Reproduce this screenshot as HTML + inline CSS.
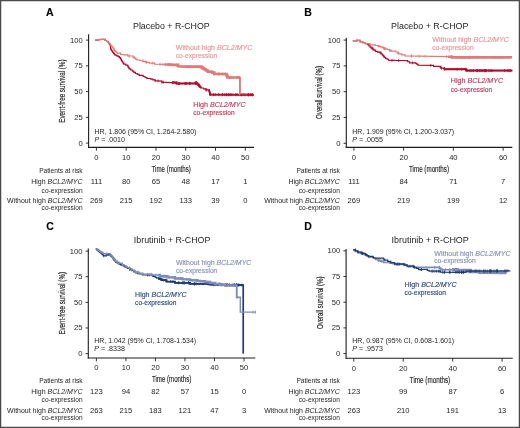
<!DOCTYPE html>
<html><head><meta charset="utf-8"><style>
html,body{margin:0;padding:0;background:#fff;overflow:hidden;}
svg{display:block;font-family:"Liberation Sans", sans-serif;will-change:transform;}
</style></head><body>
<svg width="520" height="428" viewBox="0 0 520 428">
<rect x="0" y="0" width="520" height="428" fill="#fff"/>
<text x="46.00" y="15.50" font-size="10.5" text-anchor="start" fill="#000" font-weight="bold" stroke="#000" stroke-width="0.1">A</text>
<text x="133.00" y="28.80" font-size="8.6" text-anchor="start" fill="#1e1e1e" font-weight="normal" textLength="76.69999999999999" lengthAdjust="spacingAndGlyphs">Placebo + R-CHOP</text>
<line x1="88.60" y1="34.20" x2="88.60" y2="147.95" stroke="#1e1e1e" stroke-width="1.1"/>
<line x1="88.05" y1="147.40" x2="254.00" y2="147.40" stroke="#1e1e1e" stroke-width="1.1"/>
<line x1="85.90" y1="40.10" x2="88.60" y2="40.10" stroke="#1e1e1e" stroke-width="0.9"/>
<text x="82.70" y="42.50" font-size="7.6" text-anchor="end" fill="#1e1e1e" font-weight="normal">100</text>
<line x1="85.90" y1="65.85" x2="88.60" y2="65.85" stroke="#1e1e1e" stroke-width="0.9"/>
<text x="82.70" y="68.25" font-size="7.6" text-anchor="end" fill="#1e1e1e" font-weight="normal">75</text>
<line x1="85.90" y1="91.60" x2="88.60" y2="91.60" stroke="#1e1e1e" stroke-width="0.9"/>
<text x="82.70" y="94.00" font-size="7.6" text-anchor="end" fill="#1e1e1e" font-weight="normal">50</text>
<line x1="85.90" y1="117.35" x2="88.60" y2="117.35" stroke="#1e1e1e" stroke-width="0.9"/>
<text x="82.70" y="119.75" font-size="7.6" text-anchor="end" fill="#1e1e1e" font-weight="normal">25</text>
<line x1="85.90" y1="143.10" x2="88.60" y2="143.10" stroke="#1e1e1e" stroke-width="0.9"/>
<text x="82.70" y="145.50" font-size="7.6" text-anchor="end" fill="#1e1e1e" font-weight="normal">0</text>
<text transform="translate(65.2,91.1) rotate(-90)" x="0" y="0" font-size="9" text-anchor="middle" fill="#1e1e1e" stroke="#1e1e1e" stroke-width="0.15" textLength="63.2" lengthAdjust="spacingAndGlyphs">Event-free survival (%)</text>
<line x1="96.40" y1="147.40" x2="96.40" y2="150.70" stroke="#1e1e1e" stroke-width="0.9"/>
<text x="96.40" y="159.60" font-size="7.6" text-anchor="middle" fill="#1e1e1e" font-weight="normal">0</text>
<line x1="126.18" y1="147.40" x2="126.18" y2="150.70" stroke="#1e1e1e" stroke-width="0.9"/>
<text x="126.18" y="159.60" font-size="7.6" text-anchor="middle" fill="#1e1e1e" font-weight="normal">10</text>
<line x1="155.96" y1="147.40" x2="155.96" y2="150.70" stroke="#1e1e1e" stroke-width="0.9"/>
<text x="155.96" y="159.60" font-size="7.6" text-anchor="middle" fill="#1e1e1e" font-weight="normal">20</text>
<line x1="185.74" y1="147.40" x2="185.74" y2="150.70" stroke="#1e1e1e" stroke-width="0.9"/>
<text x="185.74" y="159.60" font-size="7.6" text-anchor="middle" fill="#1e1e1e" font-weight="normal">30</text>
<line x1="215.52" y1="147.40" x2="215.52" y2="150.70" stroke="#1e1e1e" stroke-width="0.9"/>
<text x="215.52" y="159.60" font-size="7.6" text-anchor="middle" fill="#1e1e1e" font-weight="normal">40</text>
<line x1="245.30" y1="147.40" x2="245.30" y2="150.70" stroke="#1e1e1e" stroke-width="0.9"/>
<text x="245.30" y="159.60" font-size="7.6" text-anchor="middle" fill="#1e1e1e" font-weight="normal">50</text>
<text x="171.20" y="171.90" font-size="8.5" text-anchor="middle" fill="#1e1e1e" font-weight="normal" stroke="#1e1e1e" stroke-width="0.15" textLength="39.3" lengthAdjust="spacingAndGlyphs">Time (months)</text>
<text x="94.50" y="133.70" font-size="7" text-anchor="start" fill="#1e1e1e" font-weight="normal" textLength="101.9" lengthAdjust="spacingAndGlyphs">HR, 1.806 (95% CI, 1.264-2.580)</text>
<text x="94.50" y="142.00" font-size="7" text-anchor="start" fill="#1e1e1e" font-weight="normal" textLength="30.5" lengthAdjust="spacingAndGlyphs"><tspan font-style="italic">P</tspan> = .0010</text>
<text x="82.60" y="173.00" font-size="7" text-anchor="end" fill="#1e1e1e" font-weight="normal" textLength="43.4" lengthAdjust="spacingAndGlyphs">Patients at risk</text>
<text x="82.60" y="183.80" font-size="7" text-anchor="end" fill="#1e1e1e" font-weight="normal" textLength="51.4" lengthAdjust="spacingAndGlyphs">High <tspan font-style="italic">BCL2/MYC</tspan></text>
<text x="82.60" y="192.50" font-size="7" text-anchor="end" fill="#1e1e1e" font-weight="normal" textLength="41.0" lengthAdjust="spacingAndGlyphs">co-expression</text>
<text x="82.60" y="203.10" font-size="7" text-anchor="end" fill="#1e1e1e" font-weight="normal" textLength="75.6" lengthAdjust="spacingAndGlyphs">Without high <tspan font-style="italic">BCL2/MYC</tspan></text>
<text x="82.60" y="210.00" font-size="7" text-anchor="end" fill="#1e1e1e" font-weight="normal" textLength="41.0" lengthAdjust="spacingAndGlyphs">co-expression</text>
<text x="96.40" y="183.80" font-size="7.6" text-anchor="middle" fill="#1e1e1e" font-weight="normal">111</text>
<text x="96.40" y="203.10" font-size="7.6" text-anchor="middle" fill="#1e1e1e" font-weight="normal">269</text>
<text x="126.18" y="183.80" font-size="7.6" text-anchor="middle" fill="#1e1e1e" font-weight="normal">80</text>
<text x="126.18" y="203.10" font-size="7.6" text-anchor="middle" fill="#1e1e1e" font-weight="normal">215</text>
<text x="155.96" y="183.80" font-size="7.6" text-anchor="middle" fill="#1e1e1e" font-weight="normal">65</text>
<text x="155.96" y="203.10" font-size="7.6" text-anchor="middle" fill="#1e1e1e" font-weight="normal">192</text>
<text x="185.74" y="183.80" font-size="7.6" text-anchor="middle" fill="#1e1e1e" font-weight="normal">48</text>
<text x="185.74" y="203.10" font-size="7.6" text-anchor="middle" fill="#1e1e1e" font-weight="normal">133</text>
<text x="215.52" y="183.80" font-size="7.6" text-anchor="middle" fill="#1e1e1e" font-weight="normal">17</text>
<text x="215.52" y="203.10" font-size="7.6" text-anchor="middle" fill="#1e1e1e" font-weight="normal">39</text>
<text x="245.30" y="183.80" font-size="7.6" text-anchor="middle" fill="#1e1e1e" font-weight="normal">1</text>
<text x="245.30" y="203.10" font-size="7.6" text-anchor="middle" fill="#1e1e1e" font-weight="normal">0</text>
<text x="175.80" y="50.00" font-size="7" text-anchor="start" fill="#e4969a" font-weight="normal" stroke="#e4969a" stroke-width="0.15" textLength="76.5" lengthAdjust="spacingAndGlyphs">Without high <tspan font-style="italic">BCL2/MYC</tspan></text>
<text x="175.80" y="58.00" font-size="7" text-anchor="start" fill="#e4969a" font-weight="normal" stroke="#e4969a" stroke-width="0.15" textLength="41.3" lengthAdjust="spacingAndGlyphs">co-expression</text>
<text x="193.30" y="106.70" font-size="7" text-anchor="start" fill="#c03a58" font-weight="normal" stroke="#c03a58" stroke-width="0.15" textLength="52.4" lengthAdjust="spacingAndGlyphs">High <tspan font-style="italic">BCL2/MYC</tspan></text>
<text x="193.30" y="114.70" font-size="7" text-anchor="start" fill="#c03a58" font-weight="normal" stroke="#c03a58" stroke-width="0.15" textLength="41.3" lengthAdjust="spacingAndGlyphs">co-expression</text>
<text x="304.20" y="15.60" font-size="10.5" text-anchor="start" fill="#000" font-weight="bold" stroke="#000" stroke-width="0.1">B</text>
<text x="391.00" y="29.00" font-size="8.6" text-anchor="start" fill="#1e1e1e" font-weight="normal" textLength="77.5" lengthAdjust="spacingAndGlyphs">Placebo + R-CHOP</text>
<line x1="346.30" y1="37.70" x2="346.30" y2="147.95" stroke="#1e1e1e" stroke-width="1.1"/>
<line x1="345.75" y1="147.40" x2="512.30" y2="147.40" stroke="#1e1e1e" stroke-width="1.1"/>
<line x1="343.60" y1="40.10" x2="346.30" y2="40.10" stroke="#1e1e1e" stroke-width="0.9"/>
<text x="340.40" y="42.50" font-size="7.6" text-anchor="end" fill="#1e1e1e" font-weight="normal">100</text>
<line x1="343.60" y1="65.90" x2="346.30" y2="65.90" stroke="#1e1e1e" stroke-width="0.9"/>
<text x="340.40" y="68.30" font-size="7.6" text-anchor="end" fill="#1e1e1e" font-weight="normal">75</text>
<line x1="343.60" y1="91.70" x2="346.30" y2="91.70" stroke="#1e1e1e" stroke-width="0.9"/>
<text x="340.40" y="94.10" font-size="7.6" text-anchor="end" fill="#1e1e1e" font-weight="normal">50</text>
<line x1="343.60" y1="117.50" x2="346.30" y2="117.50" stroke="#1e1e1e" stroke-width="0.9"/>
<text x="340.40" y="119.90" font-size="7.6" text-anchor="end" fill="#1e1e1e" font-weight="normal">25</text>
<line x1="343.60" y1="143.30" x2="346.30" y2="143.30" stroke="#1e1e1e" stroke-width="0.9"/>
<text x="340.40" y="145.70" font-size="7.6" text-anchor="end" fill="#1e1e1e" font-weight="normal">0</text>
<text transform="translate(322.4,92.4) rotate(-90)" x="0" y="0" font-size="9" text-anchor="middle" fill="#1e1e1e" stroke="#1e1e1e" stroke-width="0.15" textLength="53.0" lengthAdjust="spacingAndGlyphs">Overall survival (%)</text>
<line x1="353.90" y1="147.40" x2="353.90" y2="150.70" stroke="#1e1e1e" stroke-width="0.9"/>
<text x="353.90" y="159.60" font-size="7.6" text-anchor="middle" fill="#1e1e1e" font-weight="normal">0</text>
<line x1="403.64" y1="147.40" x2="403.64" y2="150.70" stroke="#1e1e1e" stroke-width="0.9"/>
<text x="403.64" y="159.60" font-size="7.6" text-anchor="middle" fill="#1e1e1e" font-weight="normal">20</text>
<line x1="453.38" y1="147.40" x2="453.38" y2="150.70" stroke="#1e1e1e" stroke-width="0.9"/>
<text x="453.38" y="159.60" font-size="7.6" text-anchor="middle" fill="#1e1e1e" font-weight="normal">40</text>
<line x1="503.12" y1="147.40" x2="503.12" y2="150.70" stroke="#1e1e1e" stroke-width="0.9"/>
<text x="503.12" y="159.60" font-size="7.6" text-anchor="middle" fill="#1e1e1e" font-weight="normal">60</text>
<text x="429.00" y="172.10" font-size="8.5" text-anchor="middle" fill="#1e1e1e" font-weight="normal" stroke="#1e1e1e" stroke-width="0.15" textLength="40.0" lengthAdjust="spacingAndGlyphs">Time (months)</text>
<text x="352.20" y="133.70" font-size="7" text-anchor="start" fill="#1e1e1e" font-weight="normal" textLength="101.90000000000003" lengthAdjust="spacingAndGlyphs">HR, 1.909 (95% CI, 1.200-3.037)</text>
<text x="352.20" y="142.00" font-size="7" text-anchor="start" fill="#1e1e1e" font-weight="normal" textLength="30.80000000000001" lengthAdjust="spacingAndGlyphs"><tspan font-style="italic">P</tspan> = .0055</text>
<text x="339.80" y="173.00" font-size="7" text-anchor="end" fill="#1e1e1e" font-weight="normal" textLength="43.4" lengthAdjust="spacingAndGlyphs">Patients at risk</text>
<text x="339.80" y="183.80" font-size="7" text-anchor="end" fill="#1e1e1e" font-weight="normal" textLength="51.4" lengthAdjust="spacingAndGlyphs">High <tspan font-style="italic">BCL2/MYC</tspan></text>
<text x="339.80" y="192.50" font-size="7" text-anchor="end" fill="#1e1e1e" font-weight="normal" textLength="41.0" lengthAdjust="spacingAndGlyphs">co-expression</text>
<text x="339.80" y="203.10" font-size="7" text-anchor="end" fill="#1e1e1e" font-weight="normal" textLength="75.6" lengthAdjust="spacingAndGlyphs">Without high <tspan font-style="italic">BCL2/MYC</tspan></text>
<text x="339.80" y="210.00" font-size="7" text-anchor="end" fill="#1e1e1e" font-weight="normal" textLength="41.0" lengthAdjust="spacingAndGlyphs">co-expression</text>
<text x="353.90" y="183.80" font-size="7.6" text-anchor="middle" fill="#1e1e1e" font-weight="normal">111</text>
<text x="353.90" y="203.10" font-size="7.6" text-anchor="middle" fill="#1e1e1e" font-weight="normal">269</text>
<text x="403.64" y="183.80" font-size="7.6" text-anchor="middle" fill="#1e1e1e" font-weight="normal">84</text>
<text x="403.64" y="203.10" font-size="7.6" text-anchor="middle" fill="#1e1e1e" font-weight="normal">219</text>
<text x="453.38" y="183.80" font-size="7.6" text-anchor="middle" fill="#1e1e1e" font-weight="normal">71</text>
<text x="453.38" y="203.10" font-size="7.6" text-anchor="middle" fill="#1e1e1e" font-weight="normal">199</text>
<text x="503.12" y="183.80" font-size="7.6" text-anchor="middle" fill="#1e1e1e" font-weight="normal">7</text>
<text x="503.12" y="203.10" font-size="7.6" text-anchor="middle" fill="#1e1e1e" font-weight="normal">12</text>
<text x="432.30" y="42.00" font-size="7" text-anchor="start" fill="#e4969a" font-weight="normal" stroke="#e4969a" stroke-width="0.15" textLength="76.5" lengthAdjust="spacingAndGlyphs">Without high <tspan font-style="italic">BCL2/MYC</tspan></text>
<text x="432.30" y="49.90" font-size="7" text-anchor="start" fill="#e4969a" font-weight="normal" stroke="#e4969a" stroke-width="0.15" textLength="41.3" lengthAdjust="spacingAndGlyphs">co-expression</text>
<text x="450.80" y="83.30" font-size="7" text-anchor="start" fill="#c03a58" font-weight="normal" stroke="#c03a58" stroke-width="0.15" textLength="52.4" lengthAdjust="spacingAndGlyphs">High <tspan font-style="italic">BCL2/MYC</tspan></text>
<text x="450.80" y="91.50" font-size="7" text-anchor="start" fill="#c03a58" font-weight="normal" stroke="#c03a58" stroke-width="0.15" textLength="41.3" lengthAdjust="spacingAndGlyphs">co-expression</text>
<text x="46.20" y="229.50" font-size="10.5" text-anchor="start" fill="#000" font-weight="bold" stroke="#000" stroke-width="0.1">C</text>
<text x="133.80" y="242.80" font-size="8.6" text-anchor="start" fill="#1e1e1e" font-weight="normal" textLength="76.6" lengthAdjust="spacingAndGlyphs">Ibrutinib + R-CHOP</text>
<line x1="88.30" y1="248.60" x2="88.30" y2="358.55" stroke="#1e1e1e" stroke-width="1.1"/>
<line x1="87.75" y1="358.00" x2="255.30" y2="358.00" stroke="#1e1e1e" stroke-width="1.1"/>
<line x1="85.60" y1="251.10" x2="88.30" y2="251.10" stroke="#1e1e1e" stroke-width="0.9"/>
<text x="82.40" y="253.50" font-size="7.6" text-anchor="end" fill="#1e1e1e" font-weight="normal">100</text>
<line x1="85.60" y1="276.73" x2="88.30" y2="276.73" stroke="#1e1e1e" stroke-width="0.9"/>
<text x="82.40" y="279.12" font-size="7.6" text-anchor="end" fill="#1e1e1e" font-weight="normal">75</text>
<line x1="85.60" y1="302.35" x2="88.30" y2="302.35" stroke="#1e1e1e" stroke-width="0.9"/>
<text x="82.40" y="304.75" font-size="7.6" text-anchor="end" fill="#1e1e1e" font-weight="normal">50</text>
<line x1="85.60" y1="327.98" x2="88.30" y2="327.98" stroke="#1e1e1e" stroke-width="0.9"/>
<text x="82.40" y="330.38" font-size="7.6" text-anchor="end" fill="#1e1e1e" font-weight="normal">25</text>
<line x1="85.60" y1="353.60" x2="88.30" y2="353.60" stroke="#1e1e1e" stroke-width="0.9"/>
<text x="82.40" y="356.00" font-size="7.6" text-anchor="end" fill="#1e1e1e" font-weight="normal">0</text>
<text transform="translate(65.2,303.3) rotate(-90)" x="0" y="0" font-size="9" text-anchor="middle" fill="#1e1e1e" stroke="#1e1e1e" stroke-width="0.15" textLength="62.60000000000002" lengthAdjust="spacingAndGlyphs">Event-free survival (%)</text>
<line x1="96.40" y1="358.00" x2="96.40" y2="361.30" stroke="#1e1e1e" stroke-width="0.9"/>
<text x="96.40" y="370.20" font-size="7.6" text-anchor="middle" fill="#1e1e1e" font-weight="normal">0</text>
<line x1="125.92" y1="358.00" x2="125.92" y2="361.30" stroke="#1e1e1e" stroke-width="0.9"/>
<text x="125.92" y="370.20" font-size="7.6" text-anchor="middle" fill="#1e1e1e" font-weight="normal">10</text>
<line x1="155.44" y1="358.00" x2="155.44" y2="361.30" stroke="#1e1e1e" stroke-width="0.9"/>
<text x="155.44" y="370.20" font-size="7.6" text-anchor="middle" fill="#1e1e1e" font-weight="normal">20</text>
<line x1="184.96" y1="358.00" x2="184.96" y2="361.30" stroke="#1e1e1e" stroke-width="0.9"/>
<text x="184.96" y="370.20" font-size="7.6" text-anchor="middle" fill="#1e1e1e" font-weight="normal">30</text>
<line x1="214.48" y1="358.00" x2="214.48" y2="361.30" stroke="#1e1e1e" stroke-width="0.9"/>
<text x="214.48" y="370.20" font-size="7.6" text-anchor="middle" fill="#1e1e1e" font-weight="normal">40</text>
<line x1="244.00" y1="358.00" x2="244.00" y2="361.30" stroke="#1e1e1e" stroke-width="0.9"/>
<text x="244.00" y="370.20" font-size="7.6" text-anchor="middle" fill="#1e1e1e" font-weight="normal">50</text>
<text x="171.60" y="382.10" font-size="8.5" text-anchor="middle" fill="#1e1e1e" font-weight="normal" stroke="#1e1e1e" stroke-width="0.15" textLength="39.4" lengthAdjust="spacingAndGlyphs">Time (months)</text>
<text x="94.20" y="342.90" font-size="7" text-anchor="start" fill="#1e1e1e" font-weight="normal" textLength="101.89999999999999" lengthAdjust="spacingAndGlyphs">HR, 1.042 (95% CI, 1.708-1.534)</text>
<text x="94.20" y="351.30" font-size="7" text-anchor="start" fill="#1e1e1e" font-weight="normal" textLength="30.700000000000003" lengthAdjust="spacingAndGlyphs"><tspan font-style="italic">P</tspan> = .8338</text>
<text x="82.60" y="382.80" font-size="7" text-anchor="end" fill="#1e1e1e" font-weight="normal" textLength="43.4" lengthAdjust="spacingAndGlyphs">Patients at risk</text>
<text x="82.60" y="393.60" font-size="7" text-anchor="end" fill="#1e1e1e" font-weight="normal" textLength="51.4" lengthAdjust="spacingAndGlyphs">High <tspan font-style="italic">BCL2/MYC</tspan></text>
<text x="82.60" y="402.30" font-size="7" text-anchor="end" fill="#1e1e1e" font-weight="normal" textLength="41.0" lengthAdjust="spacingAndGlyphs">co-expression</text>
<text x="82.60" y="412.90" font-size="7" text-anchor="end" fill="#1e1e1e" font-weight="normal" textLength="75.6" lengthAdjust="spacingAndGlyphs">Without high <tspan font-style="italic">BCL2/MYC</tspan></text>
<text x="82.60" y="419.80" font-size="7" text-anchor="end" fill="#1e1e1e" font-weight="normal" textLength="41.0" lengthAdjust="spacingAndGlyphs">co-expression</text>
<text x="96.40" y="393.60" font-size="7.6" text-anchor="middle" fill="#1e1e1e" font-weight="normal">123</text>
<text x="96.40" y="412.90" font-size="7.6" text-anchor="middle" fill="#1e1e1e" font-weight="normal">263</text>
<text x="125.92" y="393.60" font-size="7.6" text-anchor="middle" fill="#1e1e1e" font-weight="normal">94</text>
<text x="125.92" y="412.90" font-size="7.6" text-anchor="middle" fill="#1e1e1e" font-weight="normal">215</text>
<text x="155.44" y="393.60" font-size="7.6" text-anchor="middle" fill="#1e1e1e" font-weight="normal">82</text>
<text x="155.44" y="412.90" font-size="7.6" text-anchor="middle" fill="#1e1e1e" font-weight="normal">183</text>
<text x="184.96" y="393.60" font-size="7.6" text-anchor="middle" fill="#1e1e1e" font-weight="normal">57</text>
<text x="184.96" y="412.90" font-size="7.6" text-anchor="middle" fill="#1e1e1e" font-weight="normal">121</text>
<text x="214.48" y="393.60" font-size="7.6" text-anchor="middle" fill="#1e1e1e" font-weight="normal">15</text>
<text x="214.48" y="412.90" font-size="7.6" text-anchor="middle" fill="#1e1e1e" font-weight="normal">47</text>
<text x="244.00" y="393.60" font-size="7.6" text-anchor="middle" fill="#1e1e1e" font-weight="normal">0</text>
<text x="244.00" y="412.90" font-size="7.6" text-anchor="middle" fill="#1e1e1e" font-weight="normal">3</text>
<text x="176.00" y="264.60" font-size="7" text-anchor="start" fill="#8a90b4" font-weight="normal" stroke="#8a90b4" stroke-width="0.15" textLength="75.3" lengthAdjust="spacingAndGlyphs">Without high <tspan font-style="italic">BCL2/MYC</tspan></text>
<text x="176.00" y="272.80" font-size="7" text-anchor="start" fill="#8a90b4" font-weight="normal" stroke="#8a90b4" stroke-width="0.15" textLength="41.3" lengthAdjust="spacingAndGlyphs">co-expression</text>
<text x="135.10" y="296.80" font-size="7" text-anchor="start" fill="#2e4a7e" font-weight="normal" stroke="#2e4a7e" stroke-width="0.15" textLength="51.4" lengthAdjust="spacingAndGlyphs">High <tspan font-style="italic">BCL2/MYC</tspan></text>
<text x="135.10" y="305.40" font-size="7" text-anchor="start" fill="#2e4a7e" font-weight="normal" stroke="#2e4a7e" stroke-width="0.15" textLength="41.3" lengthAdjust="spacingAndGlyphs">co-expression</text>
<text x="304.20" y="229.50" font-size="10.5" text-anchor="start" fill="#000" font-weight="bold" stroke="#000" stroke-width="0.1">D</text>
<text x="391.50" y="243.10" font-size="8.6" text-anchor="start" fill="#1e1e1e" font-weight="normal" textLength="77.30000000000001" lengthAdjust="spacingAndGlyphs">Ibrutinib + R-CHOP</text>
<line x1="346.10" y1="248.90" x2="346.10" y2="358.85" stroke="#1e1e1e" stroke-width="1.1"/>
<line x1="345.55" y1="358.30" x2="512.70" y2="358.30" stroke="#1e1e1e" stroke-width="1.1"/>
<line x1="343.40" y1="250.80" x2="346.10" y2="250.80" stroke="#1e1e1e" stroke-width="0.9"/>
<text x="340.20" y="253.20" font-size="7.6" text-anchor="end" fill="#1e1e1e" font-weight="normal">100</text>
<line x1="343.40" y1="276.50" x2="346.10" y2="276.50" stroke="#1e1e1e" stroke-width="0.9"/>
<text x="340.20" y="278.90" font-size="7.6" text-anchor="end" fill="#1e1e1e" font-weight="normal">75</text>
<line x1="343.40" y1="302.20" x2="346.10" y2="302.20" stroke="#1e1e1e" stroke-width="0.9"/>
<text x="340.20" y="304.60" font-size="7.6" text-anchor="end" fill="#1e1e1e" font-weight="normal">50</text>
<line x1="343.40" y1="327.90" x2="346.10" y2="327.90" stroke="#1e1e1e" stroke-width="0.9"/>
<text x="340.20" y="330.30" font-size="7.6" text-anchor="end" fill="#1e1e1e" font-weight="normal">25</text>
<line x1="343.40" y1="353.60" x2="346.10" y2="353.60" stroke="#1e1e1e" stroke-width="0.9"/>
<text x="340.20" y="356.00" font-size="7.6" text-anchor="end" fill="#1e1e1e" font-weight="normal">0</text>
<text transform="translate(322.5,302.75) rotate(-90)" x="0" y="0" font-size="9" text-anchor="middle" fill="#1e1e1e" stroke="#1e1e1e" stroke-width="0.15" textLength="52.5" lengthAdjust="spacingAndGlyphs">Overall survival (%)</text>
<line x1="353.80" y1="358.30" x2="353.80" y2="361.60" stroke="#1e1e1e" stroke-width="0.9"/>
<text x="353.80" y="370.50" font-size="7.6" text-anchor="middle" fill="#1e1e1e" font-weight="normal">0</text>
<line x1="403.24" y1="358.30" x2="403.24" y2="361.60" stroke="#1e1e1e" stroke-width="0.9"/>
<text x="403.24" y="370.50" font-size="7.6" text-anchor="middle" fill="#1e1e1e" font-weight="normal">20</text>
<line x1="452.68" y1="358.30" x2="452.68" y2="361.60" stroke="#1e1e1e" stroke-width="0.9"/>
<text x="452.68" y="370.50" font-size="7.6" text-anchor="middle" fill="#1e1e1e" font-weight="normal">40</text>
<line x1="502.12" y1="358.30" x2="502.12" y2="361.60" stroke="#1e1e1e" stroke-width="0.9"/>
<text x="502.12" y="370.50" font-size="7.6" text-anchor="middle" fill="#1e1e1e" font-weight="normal">60</text>
<text x="430.00" y="382.50" font-size="8.5" text-anchor="middle" fill="#1e1e1e" font-weight="normal" stroke="#1e1e1e" stroke-width="0.15" textLength="40.4" lengthAdjust="spacingAndGlyphs">Time (months)</text>
<text x="352.20" y="342.90" font-size="7" text-anchor="start" fill="#1e1e1e" font-weight="normal" textLength="101.90000000000003" lengthAdjust="spacingAndGlyphs">HR, 0.987 (95% CI, 0.608-1.601)</text>
<text x="352.20" y="351.30" font-size="7" text-anchor="start" fill="#1e1e1e" font-weight="normal" textLength="30.80000000000001" lengthAdjust="spacingAndGlyphs"><tspan font-style="italic">P</tspan> = .9573</text>
<text x="339.80" y="382.80" font-size="7" text-anchor="end" fill="#1e1e1e" font-weight="normal" textLength="43.4" lengthAdjust="spacingAndGlyphs">Patients at risk</text>
<text x="339.80" y="393.60" font-size="7" text-anchor="end" fill="#1e1e1e" font-weight="normal" textLength="51.4" lengthAdjust="spacingAndGlyphs">High <tspan font-style="italic">BCL2/MYC</tspan></text>
<text x="339.80" y="402.30" font-size="7" text-anchor="end" fill="#1e1e1e" font-weight="normal" textLength="41.0" lengthAdjust="spacingAndGlyphs">co-expression</text>
<text x="339.80" y="412.90" font-size="7" text-anchor="end" fill="#1e1e1e" font-weight="normal" textLength="75.6" lengthAdjust="spacingAndGlyphs">Without high <tspan font-style="italic">BCL2/MYC</tspan></text>
<text x="339.80" y="419.80" font-size="7" text-anchor="end" fill="#1e1e1e" font-weight="normal" textLength="41.0" lengthAdjust="spacingAndGlyphs">co-expression</text>
<text x="353.80" y="393.60" font-size="7.6" text-anchor="middle" fill="#1e1e1e" font-weight="normal">123</text>
<text x="353.80" y="412.90" font-size="7.6" text-anchor="middle" fill="#1e1e1e" font-weight="normal">263</text>
<text x="403.24" y="393.60" font-size="7.6" text-anchor="middle" fill="#1e1e1e" font-weight="normal">99</text>
<text x="403.24" y="412.90" font-size="7.6" text-anchor="middle" fill="#1e1e1e" font-weight="normal">210</text>
<text x="452.68" y="393.60" font-size="7.6" text-anchor="middle" fill="#1e1e1e" font-weight="normal">87</text>
<text x="452.68" y="412.90" font-size="7.6" text-anchor="middle" fill="#1e1e1e" font-weight="normal">191</text>
<text x="502.12" y="393.60" font-size="7.6" text-anchor="middle" fill="#1e1e1e" font-weight="normal">6</text>
<text x="502.12" y="412.90" font-size="7.6" text-anchor="middle" fill="#1e1e1e" font-weight="normal">13</text>
<text x="434.30" y="255.50" font-size="7" text-anchor="start" fill="#8a90b4" font-weight="normal" stroke="#8a90b4" stroke-width="0.15" textLength="76.2" lengthAdjust="spacingAndGlyphs">Without high <tspan font-style="italic">BCL2/MYC</tspan></text>
<text x="434.30" y="263.30" font-size="7" text-anchor="start" fill="#8a90b4" font-weight="normal" stroke="#8a90b4" stroke-width="0.15" textLength="41.3" lengthAdjust="spacingAndGlyphs">co-expression</text>
<text x="404.60" y="287.00" font-size="7" text-anchor="start" fill="#2e4a7e" font-weight="normal" stroke="#2e4a7e" stroke-width="0.15" textLength="52.0" lengthAdjust="spacingAndGlyphs">High <tspan font-style="italic">BCL2/MYC</tspan></text>
<text x="404.60" y="294.60" font-size="7" text-anchor="start" fill="#2e4a7e" font-weight="normal" stroke="#2e4a7e" stroke-width="0.15" textLength="41.3" lengthAdjust="spacingAndGlyphs">co-expression</text>
<polyline points="95.10,40.20 98.50,40.20 98.50,39.60 102.00,39.30 105.10,39.30 105.10,40.50 106.65,40.50 106.65,41.50 108.20,41.50 108.20,42.50 108.83,42.50 108.83,43.50 109.47,43.50 109.47,44.50 110.10,44.50 110.10,45.50 110.27,45.50 110.27,46.48 110.45,46.48 110.45,47.45 110.62,47.45 110.62,48.42 110.80,48.42 110.80,49.40 111.47,49.40 111.47,50.43 112.13,50.43 112.13,51.47 112.80,51.47 112.80,52.50 113.57,52.50 113.57,53.40 114.33,53.40 114.33,54.30 115.10,54.30 115.10,55.20 116.65,55.20 116.65,55.95 118.20,55.95 118.20,56.70 119.35,56.70 119.35,57.65 120.50,57.65 120.50,58.60 121.00,58.60 121.00,59.70 121.50,59.70 121.50,60.80 122.27,60.80 122.27,61.93 123.03,61.93 123.03,63.07 123.80,63.07 123.80,64.20 125.75,64.20 125.75,65.20 127.70,65.20 127.70,66.20 128.20,66.20 128.20,67.07 128.70,67.07 128.70,67.93 129.20,67.93 129.20,68.80 130.75,68.80 130.75,70.00 132.30,70.00 132.30,71.20 133.85,71.20 133.85,72.35 135.40,72.35 135.40,73.50 137.30,73.50 137.30,74.45 139.20,74.45 139.20,75.40 143.10,75.40 143.10,76.50 145.00,76.50 145.00,77.50 146.90,77.50 146.90,78.50 150.80,78.50 150.80,79.20 152.90,79.20 152.90,79.95 155.00,79.95 155.00,80.70 161.20,81.10 161.90,81.10 161.90,82.20 170.40,82.60 176.50,82.60 176.50,83.60 185.80,83.40 195.60,83.40 195.60,82.60 196.53,82.60 196.53,83.47 197.47,83.47 197.47,84.33 198.40,84.33 198.40,85.20 199.33,85.20 199.33,86.13 200.27,86.13 200.27,87.07 201.20,87.07 201.20,88.00 203.55,88.00 203.55,88.95 205.90,88.95 205.90,89.90 208.70,89.90 208.70,90.80 209.05,90.80 209.05,91.75 209.40,91.75 209.40,92.70 209.75,92.70 209.75,93.65 210.10,93.65 210.10,94.60 253.80,94.80" fill="none" stroke="#b00a2e" stroke-width="1.2" stroke-linejoin="miter" />
<path d="M155.24,79.22v3.00 M161.97,80.70v3.00 M158.14,79.40v3.00 M163.29,80.77v3.00 M189.52,81.90v3.00 M173.83,81.10v3.00 M172.37,81.10v3.00 M195.45,81.90v3.00 M179.26,82.04v3.00 M178.56,82.06v3.00 M199.88,84.63v3.00 M185.17,81.91v3.00 M195.42,81.90v3.00 M185.34,81.91v3.00 M189.89,81.90v3.00 M176.22,81.10v3.00 M189.78,81.90v3.00 M196.31,81.10v3.00 M186.65,81.90v3.00 M206.67,88.40v3.00 M206.04,88.40v3.00 M200.58,85.57v3.00 M243.12,93.25v3.00 M235.60,93.22v3.00 M222.56,93.16v3.00 M210.40,93.10v3.00 M247.95,93.27v3.00 M230.27,93.19v3.00 M241.35,93.24v3.00 M248.55,93.28v3.00 M241.14,93.24v3.00 M250.45,93.28v3.00 M226.77,93.18v3.00 M245.04,93.26v3.00 M229.01,93.19v3.00 M251.10,93.29v3.00 M248.55,93.28v3.00 M213.39,93.12v3.00 M215.12,93.12v3.00 M218.76,93.14v3.00 M252.45,93.29v3.00 M228.63,93.18v3.00 M237.20,93.22v3.00 M222.55,93.16v3.00 M231.83,93.20v3.00 M226.36,93.17v3.00 M224.79,93.17v3.00" stroke="#b00a2e" stroke-width="0.8" fill="none"/>
<clipPath id="cl1"><rect x="172" y="0" width="28" height="428"/><rect x="209" y="0" width="45" height="428"/></clipPath>
<polyline points="95.10,40.20 98.50,40.20 98.50,39.60 102.00,39.30 105.10,39.30 105.10,40.50 106.65,40.50 106.65,41.50 108.20,41.50 108.20,42.50 108.83,42.50 108.83,43.50 109.47,43.50 109.47,44.50 110.10,44.50 110.10,45.50 110.27,45.50 110.27,46.48 110.45,46.48 110.45,47.45 110.62,47.45 110.62,48.42 110.80,48.42 110.80,49.40 111.47,49.40 111.47,50.43 112.13,50.43 112.13,51.47 112.80,51.47 112.80,52.50 113.57,52.50 113.57,53.40 114.33,53.40 114.33,54.30 115.10,54.30 115.10,55.20 116.65,55.20 116.65,55.95 118.20,55.95 118.20,56.70 119.35,56.70 119.35,57.65 120.50,57.65 120.50,58.60 121.00,58.60 121.00,59.70 121.50,59.70 121.50,60.80 122.27,60.80 122.27,61.93 123.03,61.93 123.03,63.07 123.80,63.07 123.80,64.20 125.75,64.20 125.75,65.20 127.70,65.20 127.70,66.20 128.20,66.20 128.20,67.07 128.70,67.07 128.70,67.93 129.20,67.93 129.20,68.80 130.75,68.80 130.75,70.00 132.30,70.00 132.30,71.20 133.85,71.20 133.85,72.35 135.40,72.35 135.40,73.50 137.30,73.50 137.30,74.45 139.20,74.45 139.20,75.40 143.10,75.40 143.10,76.50 145.00,76.50 145.00,77.50 146.90,77.50 146.90,78.50 150.80,78.50 150.80,79.20 152.90,79.20 152.90,79.95 155.00,79.95 155.00,80.70 161.20,81.10 161.90,81.10 161.90,82.20 170.40,82.60 176.50,82.60 176.50,83.60 185.80,83.40 195.60,83.40 195.60,82.60 196.53,82.60 196.53,83.47 197.47,83.47 197.47,84.33 198.40,84.33 198.40,85.20 199.33,85.20 199.33,86.13 200.27,86.13 200.27,87.07 201.20,87.07 201.20,88.00 203.55,88.00 203.55,88.95 205.90,88.95 205.90,89.90 208.70,89.90 208.70,90.80 209.05,90.80 209.05,91.75 209.40,91.75 209.40,92.70 209.75,92.70 209.75,93.65 210.10,93.65 210.10,94.60 253.80,94.80" fill="none" stroke="#b00a2e" stroke-width="2.0" stroke-opacity="1.0" clip-path="url(#cl1)"/>
<polyline points="95.10,40.20 98.50,40.20 98.50,39.60 102.00,39.30 105.10,39.30 105.10,40.50 106.65,40.50 106.65,41.50 108.20,41.50 108.20,42.50 109.15,42.50 109.15,43.65 110.10,43.65 110.10,44.80 111.00,44.80 111.00,45.80 111.90,45.80 111.90,46.80 112.80,46.80 112.80,47.80 113.38,47.80 113.38,48.67 113.95,48.67 113.95,49.55 114.52,49.55 114.52,50.42 115.10,50.42 115.10,51.30 116.25,51.30 116.25,52.25 117.40,52.25 117.40,53.20 120.50,53.20 120.50,54.30 124.30,54.80 127.70,54.80 127.70,56.00 133.10,56.00 133.10,57.30 134.37,57.30 134.37,58.20 135.63,58.20 135.63,59.10 136.90,59.10 136.90,60.00 140.00,60.00 140.00,60.75 143.10,60.75 143.10,61.50 146.15,61.50 146.15,62.30 149.20,62.30 149.20,63.10 154.60,63.10 154.60,64.20 166.50,64.50 174.20,64.90 178.10,64.90 178.10,66.30 185.80,66.60 200.30,66.60 201.53,66.60 201.53,67.50 202.77,67.50 202.77,68.40 204.00,68.40 204.00,69.30 205.90,69.30 205.90,70.50 207.80,70.50 207.80,71.70 212.40,71.70 212.40,72.60 214.30,72.60 214.30,74.00 226.00,74.00 226.40,74.00 226.40,74.88 226.80,74.88 226.80,75.75 227.20,75.75 227.20,76.62 227.60,76.62 227.60,77.50 238.70,77.50 240.30,77.50 240.30,78.50 240.30,93.60 246.00,93.60 246.00,94.40" fill="none" stroke="#e07a78" stroke-width="1.2" stroke-linejoin="miter" />
<path d="M129.25,54.50v3.00 M129.21,54.50v3.00 M145.21,60.00v3.00 M134.10,55.80v3.00 M146.45,60.80v3.00 M142.82,59.25v3.00 M164.86,62.96v3.00 M160.07,62.84v3.00 M152.45,61.60v3.00 M162.91,62.91v3.00 M237.35,76.00v3.00 M232.85,76.00v3.00 M207.68,69.00v3.00 M218.54,72.50v3.00 M180.83,64.91v3.00 M227.37,75.12v3.00 M208.01,70.20v3.00 M186.37,65.10v3.00 M169.76,63.17v3.00 M229.05,76.00v3.00 M239.24,76.00v3.00 M171.64,63.27v3.00 M225.04,72.50v3.00 M195.78,65.10v3.00 M176.31,63.40v3.00 M187.04,65.10v3.00 M222.66,72.50v3.00 M230.46,76.00v3.00 M168.31,63.09v3.00 M211.09,70.20v3.00 M168.37,63.10v3.00 M218.88,72.50v3.00 M189.82,65.10v3.00 M231.07,76.00v3.00 M238.55,76.00v3.00 M202.91,66.90v3.00 M239.89,76.00v3.00 M188.23,65.10v3.00 M170.77,63.22v3.00 M209.98,70.20v3.00" stroke="#e07a78" stroke-width="0.8" fill="none"/>
<clipPath id="cl2"><rect x="165" y="0" width="75" height="428"/></clipPath>
<polyline points="95.10,40.20 98.50,40.20 98.50,39.60 102.00,39.30 105.10,39.30 105.10,40.50 106.65,40.50 106.65,41.50 108.20,41.50 108.20,42.50 109.15,42.50 109.15,43.65 110.10,43.65 110.10,44.80 111.00,44.80 111.00,45.80 111.90,45.80 111.90,46.80 112.80,46.80 112.80,47.80 113.38,47.80 113.38,48.67 113.95,48.67 113.95,49.55 114.52,49.55 114.52,50.42 115.10,50.42 115.10,51.30 116.25,51.30 116.25,52.25 117.40,52.25 117.40,53.20 120.50,53.20 120.50,54.30 124.30,54.80 127.70,54.80 127.70,56.00 133.10,56.00 133.10,57.30 134.37,57.30 134.37,58.20 135.63,58.20 135.63,59.10 136.90,59.10 136.90,60.00 140.00,60.00 140.00,60.75 143.10,60.75 143.10,61.50 146.15,61.50 146.15,62.30 149.20,62.30 149.20,63.10 154.60,63.10 154.60,64.20 166.50,64.50 174.20,64.90 178.10,64.90 178.10,66.30 185.80,66.60 200.30,66.60 201.53,66.60 201.53,67.50 202.77,67.50 202.77,68.40 204.00,68.40 204.00,69.30 205.90,69.30 205.90,70.50 207.80,70.50 207.80,71.70 212.40,71.70 212.40,72.60 214.30,72.60 214.30,74.00 226.00,74.00 226.40,74.00 226.40,74.88 226.80,74.88 226.80,75.75 227.20,75.75 227.20,76.62 227.60,76.62 227.60,77.50 238.70,77.50 240.30,77.50 240.30,78.50 240.30,93.60 246.00,93.60 246.00,94.40" fill="none" stroke="#e07a78" stroke-width="2.6" stroke-opacity="1.0" clip-path="url(#cl2)"/>
<polyline points="352.70,41.00 356.90,41.00 356.90,40.30 360.00,40.30 360.00,41.70 362.70,41.70 362.70,42.65 365.40,42.65 365.40,43.60 367.70,43.60 367.70,44.60 368.85,44.60 368.85,45.85 370.00,45.85 370.00,47.10 371.15,47.10 371.15,48.05 372.30,48.05 372.30,49.00 373.85,49.00 373.85,50.15 375.40,50.15 375.40,51.30 377.70,51.30 377.70,52.05 380.00,52.05 380.00,52.80 381.15,52.80 381.15,54.00 382.30,54.00 382.30,55.20 383.33,55.20 383.33,56.23 384.37,56.23 384.37,57.27 385.40,57.27 385.40,58.30 386.95,58.30 386.95,59.25 388.50,59.25 388.50,60.20 391.20,60.30 395.00,60.40 396.50,60.50 406.00,60.60 407.75,60.60 407.75,61.75 409.50,61.75 409.50,62.90 415.80,62.90 415.80,63.50 416.95,63.50 416.95,64.30 418.10,64.30 418.10,65.10 432.50,65.30 433.50,65.30 433.50,66.30 439.20,66.30 440.20,66.30 440.20,67.25 441.20,67.25 441.20,68.20 444.00,68.20 444.00,69.20 463.30,69.20 466.20,69.20 466.20,70.60 512.30,70.60" fill="none" stroke="#b00a2e" stroke-width="1.2" stroke-linejoin="miter" />
<path d="M372.20,46.55v3.00 M383.82,54.73v3.00 M398.56,59.02v3.00 M412.73,61.40v3.00 M380.93,51.30v3.00 M372.97,47.50v3.00 M430.74,63.78v3.00 M391.97,58.82v3.00 M509.02,69.10v3.00 M504.56,69.10v3.00 M467.20,69.10v3.00 M473.15,69.10v3.00 M477.45,69.10v3.00 M486.36,69.10v3.00 M482.89,69.10v3.00 M480.27,69.10v3.00 M484.65,69.10v3.00 M507.72,69.10v3.00 M476.51,69.10v3.00 M471.05,69.10v3.00 M491.86,69.10v3.00 M457.11,67.70v3.00 M461.68,67.70v3.00 M510.40,69.10v3.00 M477.52,69.10v3.00 M479.49,69.10v3.00 M440.82,65.75v3.00 M469.90,69.10v3.00 M481.76,69.10v3.00 M441.44,66.70v3.00 M484.34,69.10v3.00 M485.52,69.10v3.00 M444.33,67.70v3.00 M485.17,69.10v3.00 M473.57,69.10v3.00 M488.91,69.10v3.00 M465.39,67.70v3.00 M490.90,69.10v3.00" stroke="#b00a2e" stroke-width="0.8" fill="none"/>
<clipPath id="cl3"><rect x="444" y="0" width="69" height="428"/></clipPath>
<polyline points="352.70,41.00 356.90,41.00 356.90,40.30 360.00,40.30 360.00,41.70 362.70,41.70 362.70,42.65 365.40,42.65 365.40,43.60 367.70,43.60 367.70,44.60 368.85,44.60 368.85,45.85 370.00,45.85 370.00,47.10 371.15,47.10 371.15,48.05 372.30,48.05 372.30,49.00 373.85,49.00 373.85,50.15 375.40,50.15 375.40,51.30 377.70,51.30 377.70,52.05 380.00,52.05 380.00,52.80 381.15,52.80 381.15,54.00 382.30,54.00 382.30,55.20 383.33,55.20 383.33,56.23 384.37,56.23 384.37,57.27 385.40,57.27 385.40,58.30 386.95,58.30 386.95,59.25 388.50,59.25 388.50,60.20 391.20,60.30 395.00,60.40 396.50,60.50 406.00,60.60 407.75,60.60 407.75,61.75 409.50,61.75 409.50,62.90 415.80,62.90 415.80,63.50 416.95,63.50 416.95,64.30 418.10,64.30 418.10,65.10 432.50,65.30 433.50,65.30 433.50,66.30 439.20,66.30 440.20,66.30 440.20,67.25 441.20,67.25 441.20,68.20 444.00,68.20 444.00,69.20 463.30,69.20 466.20,69.20 466.20,70.60 512.30,70.60" fill="none" stroke="#b00a2e" stroke-width="2.0" stroke-opacity="1.0" clip-path="url(#cl3)"/>
<polyline points="352.70,41.00 356.90,41.00 356.90,40.30 360.00,40.30 360.00,41.70 362.70,41.70 362.70,42.65 365.40,42.65 365.40,43.60 370.00,43.60 370.00,44.80 375.40,44.80 375.40,45.50 378.10,45.50 378.10,46.30 380.80,46.30 380.80,47.10 382.70,47.10 382.70,47.95 384.60,47.95 384.60,48.80 387.30,48.80 387.30,49.50 389.25,49.50 389.25,50.35 391.20,50.35 391.20,51.20 395.80,51.20 395.80,52.00 397.30,52.00 397.30,52.95 398.80,52.95 398.80,53.90 401.90,53.90 401.90,54.85 405.00,54.85 405.00,55.80 418.80,56.20 448.80,56.70 452.00,56.70 452.00,57.40 511.60,57.40 511.60,58.00" fill="none" stroke="#e07a78" stroke-width="1.2" stroke-linejoin="miter" />
<path d="M425.11,54.81v3.00 M357.11,38.80v3.00 M360.75,40.20v3.00 M419.22,54.71v3.00 M446.51,55.16v3.00 M378.86,44.80v3.00 M398.35,51.45v3.00 M411.30,54.48v3.00 M385.40,47.30v3.00 M389.58,48.85v3.00 M384.70,47.30v3.00 M390.07,48.85v3.00 M411.58,54.49v3.00 M383.54,46.45v3.00 M473.01,55.90v3.00 M497.11,55.90v3.00 M451.64,55.20v3.00 M484.72,55.90v3.00 M494.85,55.90v3.00 M468.91,55.90v3.00 M463.57,55.90v3.00 M499.03,55.90v3.00 M464.56,55.90v3.00 M461.43,55.90v3.00 M476.55,55.90v3.00 M492.58,55.90v3.00 M456.21,55.90v3.00 M469.64,55.90v3.00 M470.36,55.90v3.00 M500.85,55.90v3.00 M476.74,55.90v3.00 M502.19,55.90v3.00 M460.33,55.90v3.00 M470.54,55.90v3.00" stroke="#e07a78" stroke-width="0.8" fill="none"/>
<clipPath id="cl4"><rect x="448" y="0" width="64" height="428"/></clipPath>
<polyline points="352.70,41.00 356.90,41.00 356.90,40.30 360.00,40.30 360.00,41.70 362.70,41.70 362.70,42.65 365.40,42.65 365.40,43.60 370.00,43.60 370.00,44.80 375.40,44.80 375.40,45.50 378.10,45.50 378.10,46.30 380.80,46.30 380.80,47.10 382.70,47.10 382.70,47.95 384.60,47.95 384.60,48.80 387.30,48.80 387.30,49.50 389.25,49.50 389.25,50.35 391.20,50.35 391.20,51.20 395.80,51.20 395.80,52.00 397.30,52.00 397.30,52.95 398.80,52.95 398.80,53.90 401.90,53.90 401.90,54.85 405.00,54.85 405.00,55.80 418.80,56.20 448.80,56.70 452.00,56.70 452.00,57.40 511.60,57.40 511.60,58.00" fill="none" stroke="#e07a78" stroke-width="2.6" stroke-opacity="1.0" clip-path="url(#cl4)"/>
<polyline points="95.70,249.00 96.93,249.00 96.93,250.00 98.17,250.00 98.17,251.00 99.40,251.00 99.40,252.00 100.43,252.00 100.43,252.95 101.45,252.95 101.45,253.90 102.47,253.90 102.47,254.85 103.50,254.85 103.50,255.80 106.20,255.80 106.20,254.50 110.20,254.50 110.20,255.30 111.10,255.30 111.10,256.37 112.00,256.37 112.00,257.43 112.90,257.43 112.90,258.50 113.58,258.50 113.58,259.38 114.25,259.38 114.25,260.25 114.92,260.25 114.92,261.12 115.60,261.12 115.60,262.00 117.25,262.00 117.25,263.00 118.90,263.00 118.90,264.00 120.60,264.00 120.60,264.75 122.30,264.75 122.30,265.50 124.00,265.50 124.00,266.47 125.70,266.47 125.70,267.43 127.40,267.43 127.40,268.40 129.70,268.40 129.70,269.50 132.00,269.50 132.00,270.60 133.85,270.60 133.85,271.75 135.70,271.75 135.70,272.90 139.05,272.90 139.05,273.85 142.40,273.85 142.40,274.80 152.00,274.80 152.00,275.60 153.60,275.60 153.60,276.47 155.20,276.47 155.20,277.33 156.80,277.33 156.80,278.20 159.25,278.20 159.25,279.20 161.70,279.20 161.70,280.20 166.50,280.20 166.50,281.60 175.00,281.60 175.00,282.80 190.00,282.80 190.00,283.80 210.00,283.80 210.00,284.50 236.60,285.00 243.40,285.20 243.40,353.60" fill="none" stroke="#1f3a6e" stroke-width="1.3" stroke-linejoin="miter" />
<path d="M137.61,271.40v3.00 M152.63,274.10v3.00 M124.87,264.97v3.00 M110.40,253.80v3.00 M103.74,254.30v3.00 M129.90,268.00v3.00 M108.21,253.00v3.00 M147.63,273.30v3.00 M149.66,273.30v3.00 M107.75,253.00v3.00 M113.83,257.88v3.00 M147.66,273.30v3.00 M213.28,283.06v3.00 M226.92,283.32v3.00 M188.66,281.30v3.00 M170.76,280.10v3.00 M184.23,281.30v3.00 M225.89,283.30v3.00 M182.51,281.30v3.00 M188.75,281.30v3.00 M194.60,282.30v3.00 M194.84,282.30v3.00 M193.99,282.30v3.00 M236.41,283.50v3.00 M172.95,280.10v3.00 M160.39,277.70v3.00 M238.29,283.55v3.00 M233.04,283.43v3.00 M241.91,283.66v3.00 M196.05,282.30v3.00 M238.86,283.57v3.00 M236.97,283.51v3.00 M178.43,281.30v3.00 M221.88,283.22v3.00 M229.45,283.37v3.00 M215.03,283.09v3.00 M203.08,282.30v3.00 M183.99,281.30v3.00 M188.31,281.30v3.00 M178.88,281.30v3.00 M165.65,278.70v3.00 M208.86,282.30v3.00 M183.82,281.30v3.00 M227.25,283.32v3.00 M163.74,278.70v3.00 M235.00,283.47v3.00 M217.58,283.14v3.00 M236.68,283.50v3.00 M234.42,283.46v3.00 M234.67,283.46v3.00 M207.89,282.30v3.00 M161.09,277.70v3.00" stroke="#1f3a6e" stroke-width="0.8" fill="none"/>
<clipPath id="cl5"><rect x="158" y="0" width="86" height="428"/></clipPath>
<polyline points="95.70,249.00 96.93,249.00 96.93,250.00 98.17,250.00 98.17,251.00 99.40,251.00 99.40,252.00 100.43,252.00 100.43,252.95 101.45,252.95 101.45,253.90 102.47,253.90 102.47,254.85 103.50,254.85 103.50,255.80 106.20,255.80 106.20,254.50 110.20,254.50 110.20,255.30 111.10,255.30 111.10,256.37 112.00,256.37 112.00,257.43 112.90,257.43 112.90,258.50 113.58,258.50 113.58,259.38 114.25,259.38 114.25,260.25 114.92,260.25 114.92,261.12 115.60,261.12 115.60,262.00 117.25,262.00 117.25,263.00 118.90,263.00 118.90,264.00 120.60,264.00 120.60,264.75 122.30,264.75 122.30,265.50 124.00,265.50 124.00,266.47 125.70,266.47 125.70,267.43 127.40,267.43 127.40,268.40 129.70,268.40 129.70,269.50 132.00,269.50 132.00,270.60 133.85,270.60 133.85,271.75 135.70,271.75 135.70,272.90 139.05,272.90 139.05,273.85 142.40,273.85 142.40,274.80 152.00,274.80 152.00,275.60 153.60,275.60 153.60,276.47 155.20,276.47 155.20,277.33 156.80,277.33 156.80,278.20 159.25,278.20 159.25,279.20 161.70,279.20 161.70,280.20 166.50,280.20 166.50,281.60 175.00,281.60 175.00,282.80 190.00,282.80 190.00,283.80 210.00,283.80 210.00,284.50 236.60,285.00 243.40,285.20 243.40,353.60" fill="none" stroke="#1f3a6e" stroke-width="1.8" stroke-opacity="1.0" clip-path="url(#cl5)"/>
<polyline points="95.70,249.00 97.55,249.00 97.55,250.10 99.40,250.10 99.40,251.20 100.77,251.20 100.77,252.07 102.13,252.07 102.13,252.93 103.50,252.93 103.50,253.80 106.20,253.60 110.20,253.60 110.20,254.60 111.10,254.60 111.10,255.67 112.00,255.67 112.00,256.73 112.90,256.73 112.90,257.80 113.80,257.80 113.80,258.93 114.70,258.93 114.70,260.07 115.60,260.07 115.60,261.20 117.25,261.20 117.25,262.25 118.90,262.25 118.90,263.30 122.30,263.30 122.30,264.70 124.00,264.70 124.00,265.73 125.70,265.73 125.70,266.77 127.40,266.77 127.40,267.80 129.70,267.80 129.70,268.90 132.00,268.90 132.00,270.00 133.85,270.00 133.85,271.15 135.70,271.15 135.70,272.30 139.05,272.30 139.05,273.25 142.40,273.25 142.40,274.20 152.00,274.20 152.00,275.00 160.00,275.00 160.00,276.30 167.50,276.30 167.50,277.40 175.00,277.40 175.00,278.50 182.50,278.50 182.50,279.40 190.00,279.40 190.00,280.30 197.50,280.30 197.50,281.15 205.00,281.15 205.00,282.00 210.00,282.00 210.00,283.00 215.00,283.00 215.00,284.00 220.00,284.00 220.00,284.75 225.00,284.75 225.00,285.50 237.00,285.50 237.00,286.80 237.00,297.30 240.30,297.30 240.30,312.10 255.50,312.10" fill="none" stroke="#808cb8" stroke-width="1.4" stroke-linejoin="miter" />
<path d="M143.70,272.70v3.00 M107.00,252.10v3.00 M115.19,258.57v3.00 M138.43,270.80v3.00 M129.60,266.30v3.00 M122.48,263.20v3.00 M156.10,273.50v3.00 M135.18,269.65v3.00 M117.85,260.75v3.00 M112.16,255.23v3.00 M151.15,272.70v3.00 M126.54,265.27v3.00 M219.46,282.50v3.00 M186.74,277.90v3.00 M175.00,275.90v3.00 M200.63,279.65v3.00 M222.08,283.25v3.00 M173.02,275.90v3.00 M220.17,283.25v3.00 M230.05,284.00v3.00 M221.26,283.25v3.00 M222.59,283.25v3.00 M160.57,274.80v3.00 M207.77,280.50v3.00 M225.55,284.00v3.00 M163.79,274.80v3.00 M180.63,277.00v3.00 M180.41,277.00v3.00 M200.07,279.65v3.00 M192.15,278.80v3.00 M195.94,278.80v3.00 M219.01,282.50v3.00 M160.14,274.80v3.00 M164.17,274.80v3.00 M169.64,275.90v3.00 M169.47,275.90v3.00 M165.20,274.80v3.00 M255.49,310.60v3.00 M253.09,310.60v3.00 M237.72,295.80v3.00" stroke="#808cb8" stroke-width="0.8" fill="none"/>
<clipPath id="cl6"><rect x="158" y="0" width="79" height="428"/></clipPath>
<polyline points="95.70,249.00 97.55,249.00 97.55,250.10 99.40,250.10 99.40,251.20 100.77,251.20 100.77,252.07 102.13,252.07 102.13,252.93 103.50,252.93 103.50,253.80 106.20,253.60 110.20,253.60 110.20,254.60 111.10,254.60 111.10,255.67 112.00,255.67 112.00,256.73 112.90,256.73 112.90,257.80 113.80,257.80 113.80,258.93 114.70,258.93 114.70,260.07 115.60,260.07 115.60,261.20 117.25,261.20 117.25,262.25 118.90,262.25 118.90,263.30 122.30,263.30 122.30,264.70 124.00,264.70 124.00,265.73 125.70,265.73 125.70,266.77 127.40,266.77 127.40,267.80 129.70,267.80 129.70,268.90 132.00,268.90 132.00,270.00 133.85,270.00 133.85,271.15 135.70,271.15 135.70,272.30 139.05,272.30 139.05,273.25 142.40,273.25 142.40,274.20 152.00,274.20 152.00,275.00 160.00,275.00 160.00,276.30 167.50,276.30 167.50,277.40 175.00,277.40 175.00,278.50 182.50,278.50 182.50,279.40 190.00,279.40 190.00,280.30 197.50,280.30 197.50,281.15 205.00,281.15 205.00,282.00 210.00,282.00 210.00,283.00 215.00,283.00 215.00,284.00 220.00,284.00 220.00,284.75 225.00,284.75 225.00,285.50 237.00,285.50 237.00,286.80 237.00,297.30 240.30,297.30 240.30,312.10 255.50,312.10" fill="none" stroke="#808cb8" stroke-width="2.4" stroke-opacity="1.0" clip-path="url(#cl6)"/>
<polyline points="353.10,249.80 354.63,249.80 354.63,250.67 356.17,250.67 356.17,251.53 357.70,251.53 357.70,252.40 360.27,252.40 360.27,253.27 362.83,253.27 362.83,254.13 365.40,254.13 365.40,255.00 366.95,255.00 366.95,256.00 368.50,256.00 368.50,257.00 373.10,257.00 373.10,258.00 375.40,258.00 375.40,259.40 378.10,259.40 378.10,260.35 380.80,260.35 380.80,261.30 383.80,261.30 383.80,262.50 390.00,262.50 390.00,263.20 394.60,263.20 394.60,264.40 404.20,264.40 404.20,265.20 407.10,265.20 407.10,266.40 413.80,266.40 413.80,267.30 420.00,267.20 427.30,267.40 439.60,267.40 439.60,268.10 440.55,268.10 440.55,268.95 441.50,268.95 441.50,269.80 456.90,269.80 456.90,270.60 470.00,270.60 470.00,271.50 480.00,271.50 480.00,272.30 506.50,272.50" fill="none" stroke="#808cb8" stroke-width="1.6" stroke-linejoin="miter" />
<path d="M392.66,261.70v3.00 M378.69,258.85v3.00 M378.59,258.85v3.00 M381.35,259.80v3.00 M403.52,262.90v3.00 M399.00,262.90v3.00 M382.06,259.80v3.00 M369.33,255.50v3.00 M379.66,258.85v3.00 M364.28,252.63v3.00 M396.66,262.90v3.00 M408.70,264.90v3.00 M383.52,259.80v3.00 M360.99,251.77v3.00 M434.46,265.90v3.00 M439.33,265.90v3.00 M445.11,268.30v3.00 M449.57,268.30v3.00 M439.51,265.90v3.00 M450.03,268.30v3.00 M445.57,268.30v3.00 M440.79,267.45v3.00 M439.31,265.90v3.00 M442.40,268.30v3.00 M490.85,270.88v3.00 M476.45,270.00v3.00 M490.40,270.88v3.00 M478.50,270.00v3.00 M467.50,269.10v3.00 M482.33,270.82v3.00 M490.45,270.88v3.00 M458.65,269.10v3.00 M476.67,270.00v3.00 M476.72,270.00v3.00 M499.86,270.95v3.00 M502.76,270.97v3.00 M474.09,270.00v3.00 M500.79,270.96v3.00 M495.34,270.92v3.00 M468.37,269.10v3.00 M478.67,270.00v3.00 M461.28,269.10v3.00 M496.47,270.92v3.00 M488.78,270.87v3.00" stroke="#808cb8" stroke-width="0.8" fill="none"/>
<clipPath id="cl7"><rect x="452" y="0" width="55" height="428"/></clipPath>
<polyline points="353.10,249.80 354.63,249.80 354.63,250.67 356.17,250.67 356.17,251.53 357.70,251.53 357.70,252.40 360.27,252.40 360.27,253.27 362.83,253.27 362.83,254.13 365.40,254.13 365.40,255.00 366.95,255.00 366.95,256.00 368.50,256.00 368.50,257.00 373.10,257.00 373.10,258.00 375.40,258.00 375.40,259.40 378.10,259.40 378.10,260.35 380.80,260.35 380.80,261.30 383.80,261.30 383.80,262.50 390.00,262.50 390.00,263.20 394.60,263.20 394.60,264.40 404.20,264.40 404.20,265.20 407.10,265.20 407.10,266.40 413.80,266.40 413.80,267.30 420.00,267.20 427.30,267.40 439.60,267.40 439.60,268.10 440.55,268.10 440.55,268.95 441.50,268.95 441.50,269.80 456.90,269.80 456.90,270.60 470.00,270.60 470.00,271.50 480.00,271.50 480.00,272.30 506.50,272.50" fill="none" stroke="#808cb8" stroke-width="3.6" stroke-opacity="1.0" clip-path="url(#cl7)"/>
<polyline points="353.10,249.80 355.40,249.80 355.40,250.95 357.70,250.95 357.70,252.10 361.55,252.10 361.55,253.35 365.40,253.35 365.40,254.60 366.95,254.60 366.95,255.55 368.50,255.55 368.50,256.50 373.10,256.50 373.10,257.60 375.40,258.20 382.30,258.20 383.45,258.20 383.45,259.20 384.60,259.20 384.60,260.20 387.70,260.20 387.70,261.40 390.80,261.40 390.80,262.60 394.60,262.60 394.60,264.00 404.20,264.00 404.20,264.80 407.10,264.80 407.10,266.20 413.80,266.20 413.80,267.30 416.25,267.30 416.25,268.45 418.70,268.45 418.70,269.60 425.40,269.40 427.30,269.40 427.30,270.30 429.20,270.30 429.20,271.20 440.60,271.20 440.60,272.20 456.90,272.30 466.00,272.30 466.00,271.20 510.40,270.80" fill="none" stroke="#1f3a6e" stroke-width="1.3" stroke-linejoin="miter" />
<path d="M421.55,268.01v3.00 M414.44,265.80v3.00 M405.07,263.30v3.00 M410.03,264.70v3.00 M397.29,262.50v3.00 M362.73,251.85v3.00 M399.08,262.50v3.00 M355.37,248.30v3.00 M365.76,253.10v3.00 M413.07,264.70v3.00 M358.32,250.60v3.00 M361.88,251.85v3.00 M362.45,251.85v3.00 M421.04,268.03v3.00 M444.33,270.72v3.00 M431.88,269.70v3.00 M497.32,269.42v3.00 M439.70,269.70v3.00 M497.52,269.42v3.00 M483.88,269.54v3.00 M496.89,269.42v3.00 M506.19,269.34v3.00 M476.33,269.61v3.00 M493.90,269.45v3.00 M432.90,269.70v3.00 M491.39,269.47v3.00 M470.91,269.66v3.00 M487.21,269.51v3.00 M438.54,269.70v3.00 M489.92,269.48v3.00 M504.76,269.35v3.00 M434.89,269.70v3.00 M455.94,270.79v3.00 M475.12,269.62v3.00 M496.24,269.43v3.00 M449.37,270.75v3.00 M444.38,270.72v3.00 M450.00,270.76v3.00 M479.28,269.58v3.00 M490.28,269.48v3.00 M461.50,270.80v3.00 M459.40,270.80v3.00 M461.73,270.80v3.00 M458.02,270.80v3.00 M463.46,270.80v3.00 M436.66,269.70v3.00 M470.02,269.66v3.00 M507.84,269.32v3.00 M463.03,270.80v3.00 M489.79,269.49v3.00 M442.85,270.71v3.00 M485.27,269.53v3.00 M490.49,269.48v3.00 M483.91,269.54v3.00" stroke="#1f3a6e" stroke-width="0.8" fill="none"/>
<rect x="0.6" y="0.6" width="518.8" height="426.8" fill="none" stroke="#4a4a4a" stroke-width="1.3"/>
</svg>
</body></html>
